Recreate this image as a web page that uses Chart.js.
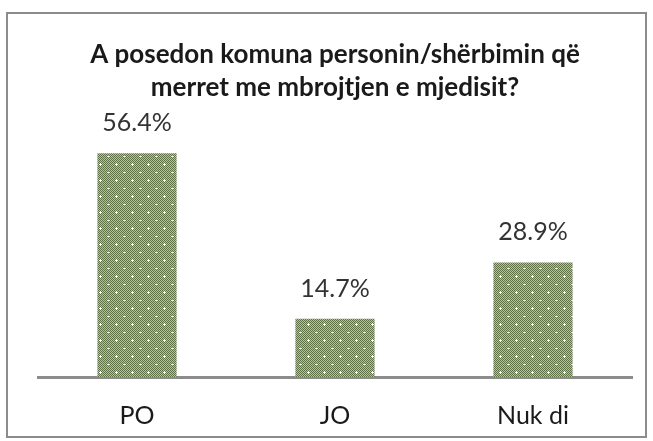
<!DOCTYPE html>
<html><head><meta charset="utf-8">
<script src="https://cdn.jsdelivr.net/npm/chart.js@4"></script>
<style>
html,body{margin:0;padding:0;background:#fff;}
#wrap{position:relative;width:653px;height:441px;}
#frame{position:absolute;left:6px;top:12px;width:637px;height:422px;border:2px solid #8c8c8c;box-sizing:content-box;pointer-events:none;}
canvas{position:absolute;left:0;top:0;}
</style></head>
<body>
<div id="wrap"><canvas id="c" width="653" height="441"></canvas><div id="frame"></div></div>
<script>
const categories = ["PO", "JO", "Nuk di"];
const values = [56.4, 14.7, 28.9];
const titleLines = ["A posedon komuna personin/shërbimin që", "merret me mbrojtjen e mjedisit?"];

const FONT = 'Lato, "Open Sans", sans-serif';

function makePattern(){
  const t = document.createElement('canvas');
  t.width = 16; t.height = 16;
  const g = t.getContext('2d');
  for(let y=0;y<16;y++){
    for(let x=0;x<16;x++){
      g.fillStyle = ((x+y)%2===0) ? '#5e7245' : '#b6c0a2';
      g.fillRect(x,y,1,1);
    }
  }
  g.fillStyle = '#ffffff';
  g.fillRect(3,4,3,1); g.fillRect(4,3,1,3);
  g.fillStyle = '#e8ece0';
  g.fillRect(12,12,1,1); g.fillRect(11,12,1,1); g.fillRect(13,12,1,1);
  return document.getElementById('c').getContext('2d').createPattern(t,'repeat');
}

const valueLabels = {
  id:'valueLabels',
  afterDatasetsDraw(chart){
    const ctx = chart.ctx;
    const meta = chart.getDatasetMeta(0);
    ctx.save();
    ctx.font = '25px ' + FONT;
    ctx.fillStyle = '#333333';
    ctx.textAlign = 'center';
    ctx.textBaseline = 'middle';
    meta.data.forEach((bar,i)=>{
      ctx.fillText(values[i].toFixed(1)+'%', bar.x, bar.y - 30);
    });
    ctx.restore();
  }
};

new Chart(document.getElementById('c'), {
  type:'bar',
  data:{
    labels:categories,
    datasets:[{data:values, backgroundColor:makePattern(), borderWidth:0, barPercentage:0.4, categoryPercentage:1}]
  },
  options:{
    responsive:false,
    animation:false,
    layout:{padding:{left:38,right:21,top:0,bottom:0}},
    plugins:{
      legend:{display:false},
      tooltip:{enabled:false},
      title:{display:true,text:titleLines,color:'#1a1a1a',
        font:{family:FONT,size:26,weight:'bold',lineHeight:1.27},
        padding:{top:38,bottom:35}}
    },
    scales:{
      x:{
        grid:{display:false,drawTicks:false},
        border:{display:true,color:'#8c8c8c',width:3},
        ticks:{color:'#1a1a1a',padding:24,font:{family:FONT,size:25}},
        afterFit(s){ s.height = 64; }
      },
      y:{display:false,min:0,max:60}
    }
  },
  plugins:[valueLabels]
});
</script>
</body></html>
